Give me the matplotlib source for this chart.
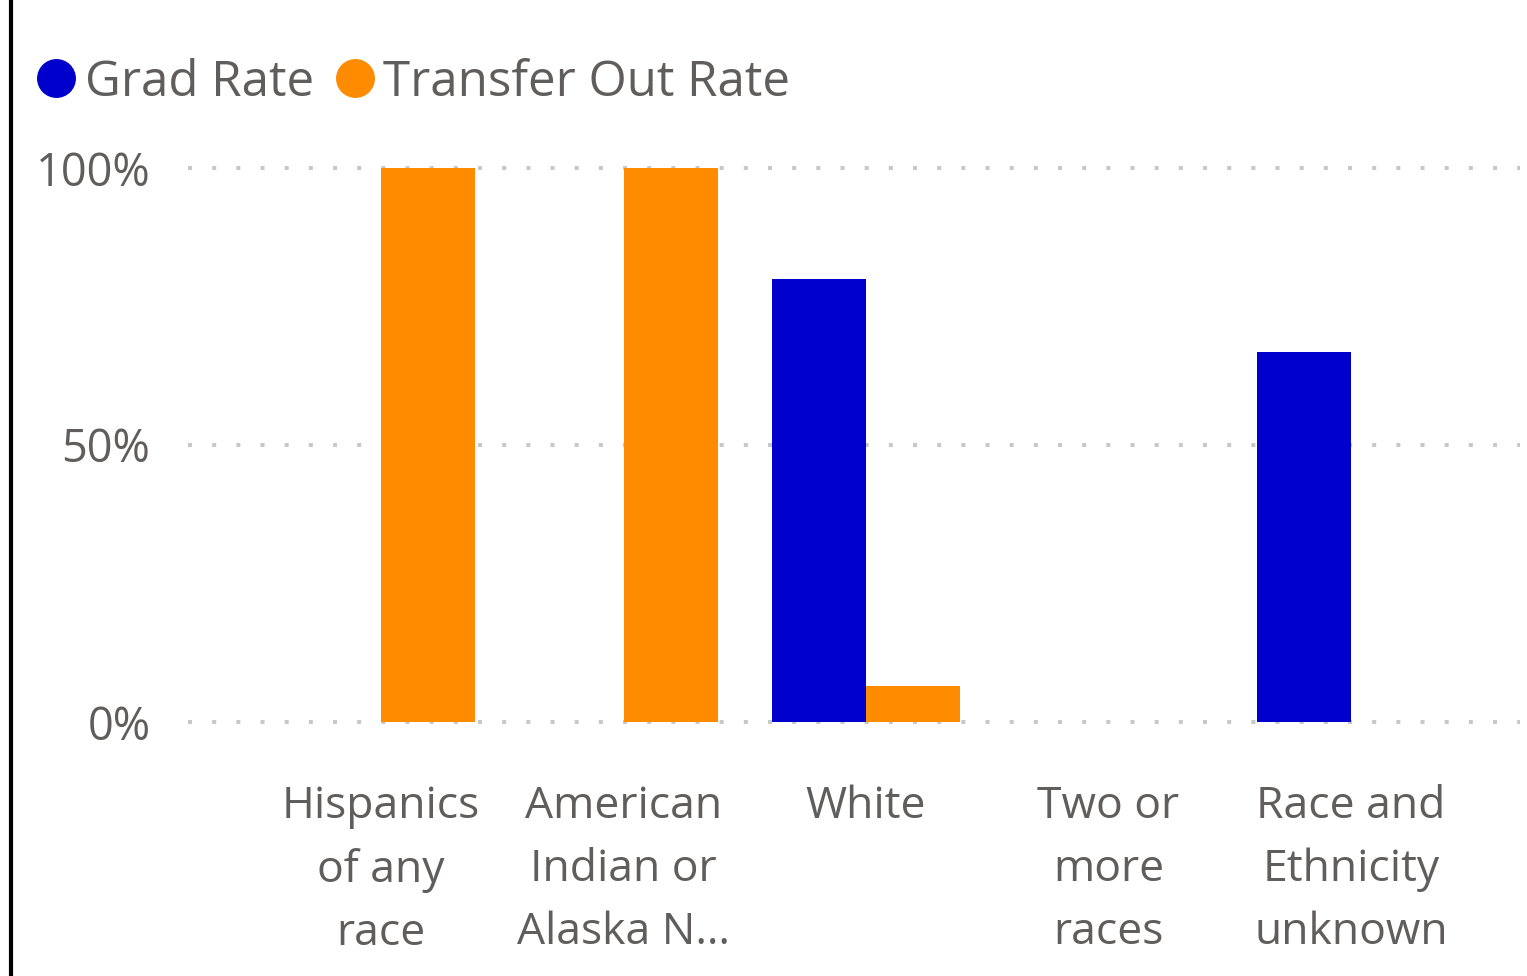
import matplotlib
matplotlib.use("Agg")
import matplotlib.pyplot as plt
from matplotlib.lines import Line2D
import numpy as np

# dados do gráfico
categories = ["Hispanics\nof any\nrace", "American\nIndian or\nAlaska N…", "White",
              "Two or\nmore\nraces", "Race and\nEthnicity\nunknown"]
grad_rate = [0, 0, 80, 0, 66.7]
transfer_rate = [100, 100, 6.5, 0, 0]
y_ticks = [0, 50, 100]
y_labels = ["0%", "50%", "100%"]

BLUE = "#0000CC"
ORANGE = "#FF8C00"
TEXT = "#605E5C"

plt.rcParams["font.family"] = ["Open Sans", "DejaVu Sans"]

W, H = 1527, 976
fig = plt.figure(figsize=(W / 100, H / 100), dpi=100)
ax = fig.add_axes([188 / W, (H - 722) / H, (1520 - 188) / W, (722 - 168) / H])

x = np.arange(len(categories))
width = 0.388
ax.bar(x - width, grad_rate, width, color=BLUE, align="edge", linewidth=0, zorder=2)
ax.bar(x, transfer_rate, width, color=ORANGE, align="edge", linewidth=0, zorder=2)

ax.set_xlim(-0.796, 4.697)
ax.set_ylim(0, 100)
ax.set_yticks(y_ticks)
ax.set_yticklabels(y_labels)
ax.set_xticks(x)
ax.set_xticklabels(categories, linespacing=1.55)

ax.tick_params(axis="y", length=0, pad=27, labelsize=32.5, labelcolor=TEXT)
ax.tick_params(axis="x", length=0, pad=45, labelsize=32, labelcolor=TEXT)
for lbl in ax.get_xticklabels():
    lbl.set_verticalalignment("top")

for s in ax.spines.values():
    s.set_visible(False)

ax.grid(axis="y", color="#C8C8C8", linewidth=2.9, linestyle=(0, (1, 5)), zorder=1)
ax.set_axisbelow(True)
for gl in ax.get_ygridlines():
    gl.set_clip_on(False)

# legenda
handles = [
    Line2D([], [], marker="o", linestyle="", markersize=27, color=BLUE),
    Line2D([], [], marker="o", linestyle="", markersize=27, color=ORANGE),
]
fig.legend(handles, ["Grad Rate", "Transfer Out Rate"], loc="center left",
           bbox_to_anchor=(38 / W, 1 - 83 / H), ncol=2, frameon=False,
           fontsize=35.5, labelcolor=TEXT, handletextpad=0.2, columnspacing=0.45,
           handlelength=0.75, borderaxespad=0, borderpad=0)

# borda esquerda
fig.add_artist(Line2D([11 / W, 11 / W], [0, 1], color="black", linewidth=3))

fig.savefig("out.png", dpi=100)
